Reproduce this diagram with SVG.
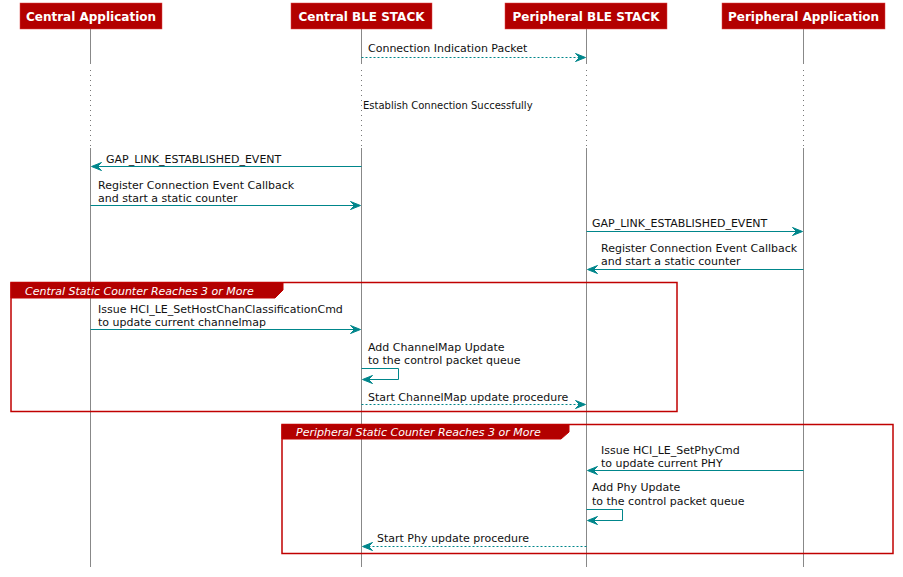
<svg xmlns="http://www.w3.org/2000/svg" width="903" height="577" viewBox="0 0 903 577">
<defs>
<style>
text{font-family:"DejaVu Sans",sans-serif;font-size:11px;fill:#111}
.ph{fill:#B30000;stroke:#d44;stroke-width:0.5}
.pt{fill:#fff;font-weight:bold;font-size:12px;text-anchor:middle}
.life{stroke:#888;stroke-width:1;fill:none}
.dot{stroke:#777;stroke-width:1;stroke-dasharray:1,4;fill:none}
.msg{stroke:#00868B;stroke-width:1;fill:none}
.dash{stroke:#00868B;stroke-width:1;stroke-dasharray:2,2;fill:none}
.head{fill:#00868B;stroke:#00868B;stroke-width:1}
.frame{fill:none;stroke:#C00000;stroke-width:1.5}
.tab{fill:#B30000;stroke:#C00000;stroke-width:1}
.ft{fill:#fff;font-style:italic;font-size:11px}
.small{font-size:10px}
</style>
</defs>
<rect width="903" height="577" fill="#fff"/>
<g id="lifelines">
<path class="life" d="M90.5,28V64M361.5,28V64M586.5,28V64M803.5,28V64"/>
<path class="dot" d="M90.5,70V150M361.5,70V150M586.5,70V150M803.5,70V150"/>
<path class="life" d="M90.5,148V567M361.5,148V567M586.5,148V567M803.5,148V567"/>
</g>
<g id="p-central-app"><rect class="ph" x="20" y="3" width="142" height="26"/><text class="pt" x="91" y="20.5">Central Application</text></g>
<g id="p-central-ble"><rect class="ph" x="291" y="3" width="141" height="26"/><text class="pt" x="361.5" y="20.5">Central BLE STACK</text></g>
<g id="p-periph-ble"><rect class="ph" x="505" y="3" width="162" height="26"/><text class="pt" x="586" y="20.5">Peripheral BLE STACK</text></g>
<g id="p-periph-app"><rect class="ph" x="722" y="3" width="163" height="26"/><text class="pt" x="803.5" y="20.5">Peripheral Application</text></g>
<g id="frame-central">
<rect class="frame" x="11" y="282.5" width="666" height="129"/>
<polygon class="tab" points="11,282.5 283,282.5 283,290 275,298 11,298"/>
<text class="ft" x="25" y="294.5">Central Static Counter Reaches 3 or More</text>
</g>
<g id="frame-peripheral">
<rect class="frame" x="282" y="424.5" width="611" height="129"/>
<polygon class="tab" points="282,424.5 569,424.5 569,432 561,439 282,439"/>
<text class="ft" x="296" y="436">Peripheral Static Counter Reaches 3 or More</text>
</g>
<g id="connectors">
<path class="dash" d="M361.5,57.5H584"/><polygon class="head" points="585.5,57.5 575.5,53.5 579.5,57.5 575.5,61.5"/>
<text x="368" y="52">Connection Indication Packet</text>
<text class="small" x="363" y="109">Establish Connection Successfully</text>
<path class="msg" d="M361.5,166.5H93"/><polygon class="head" points="91.5,166.5 101.5,162.5 97.5,166.5 101.5,170.5"/>
<text x="106" y="163">GAP_LINK_ESTABLISHED_EVENT</text>
<path class="msg" d="M90.5,205.5H359"/><polygon class="head" points="360.5,205.5 350.5,201.5 354.5,205.5 350.5,209.5"/>
<text x="98" y="189">Register Connection Event Callback</text>
<text x="98" y="202">and start a static counter</text>
<path class="msg" d="M586.5,231.5H801"/><polygon class="head" points="802.5,231.5 792.5,227.5 796.5,231.5 792.5,235.5"/>
<text x="592" y="227">GAP_LINK_ESTABLISHED_EVENT</text>
<path class="msg" d="M803.5,269.5H589"/><polygon class="head" points="587.5,269.5 597.5,265.5 593.5,269.5 597.5,273.5"/>
<text x="601" y="252">Register Connection Event Callback</text>
<text x="601" y="265">and start a static counter</text>
<path class="msg" d="M90.5,329.5H359"/><polygon class="head" points="360.5,329.5 350.5,325.5 354.5,329.5 350.5,333.5"/>
<text x="98" y="313">Issue HCI_LE_SetHostChanClassificationCmd</text>
<text x="98" y="326">to update current channelmap</text>
<path class="msg" d="M361.5,368.5H398.5V379.5H364"/><polygon class="head" points="362.5,379.5 372.5,375.5 368.5,379.5 372.5,383.5"/>
<text x="368" y="351">Add ChannelMap Update</text>
<text x="368" y="364">to the control packet queue</text>
<path class="dash" d="M361.5,404.5H584"/><polygon class="head" points="585.5,404.5 575.5,400.5 579.5,404.5 575.5,408.5"/>
<text x="368" y="401">Start ChannelMap update procedure</text>
<path class="msg" d="M803.5,470.5H589"/><polygon class="head" points="587.5,470.5 597.5,466.5 593.5,470.5 597.5,474.5"/>
<text x="601" y="454">Issue HCI_LE_SetPhyCmd</text>
<text x="601" y="467">to update current PHY</text>
<path class="msg" d="M586.5,509.5H622.5V520.5H589"/><polygon class="head" points="587.5,520.5 597.5,516.5 593.5,520.5 597.5,524.5"/>
<text x="592" y="491">Add Phy Update</text>
<text x="592" y="505">to the control packet queue</text>
<path class="dash" d="M586.5,546.5H364"/><polygon class="head" points="362.5,546.5 372.5,542.5 368.5,546.5 372.5,550.5"/>
<text x="377" y="542">Start Phy update procedure</text>
</g>
</svg>
